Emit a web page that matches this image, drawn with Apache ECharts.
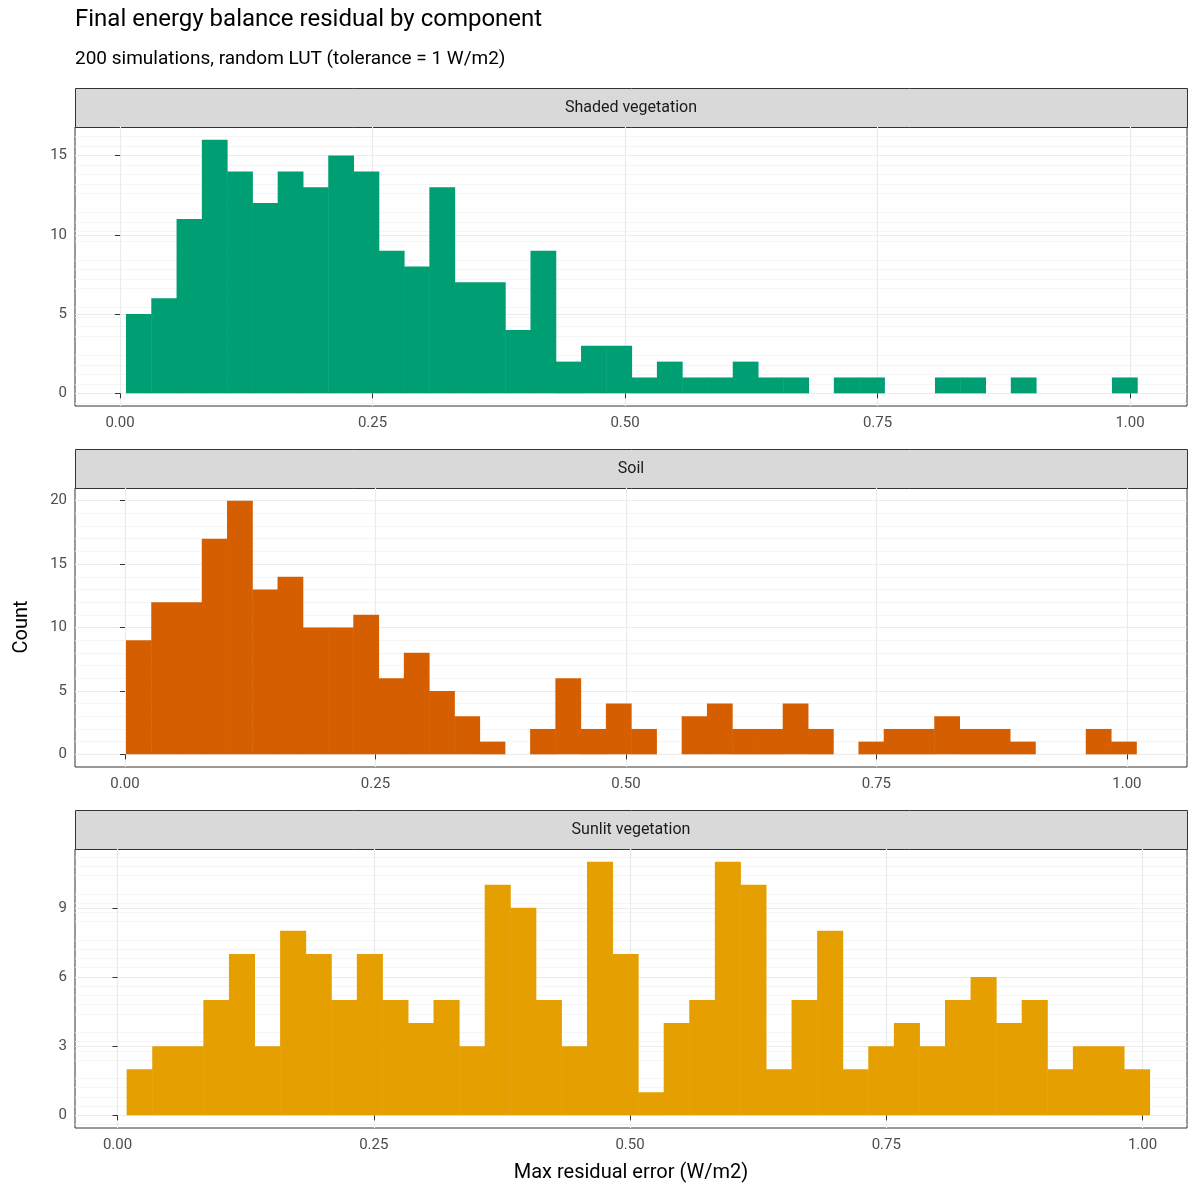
<!DOCTYPE html>
<html>
<head>
<meta charset="utf-8">
<script src="https://cdn.jsdelivr.net/npm/echarts@6/dist/echarts.min.js"></script>
<style>html,body{margin:0;padding:0;background:#fff}#main{width:1200px;height:1200px}</style>
</head>
<body>
<div id="main"></div>
<script>
// facet names
var panels = ['Shaded vegetation', 'Soil', 'Sunlit vegetation'];
var colors = ['#009E73', '#D55E00', '#E69F00'];

// 40 bins per panel, counts
var shadedCounts = [5,6,11,16,14,12,14,13,15,14, 9,8,13,7,7,4,9,2,3,3, 1,2,1,1,2,1,1,0,1,1, 0,0,1,1,0,1,0,0,0,1];
var soilCounts   = [9,12,12,17,20,13,14,10,10,11, 6,8,5,3,1,0,2,6,2,4, 2,0,3,4,2,2,4,2,0,1, 2,2,3,2,2,1,0,0,2,1];
var sunlitCounts = [2,3,3,5,7,3,8,7,5,7, 5,4,5,3,10,9,5,3,11,7, 1,4,5,11,10,2,5,8,2,3, 4,3,5,6,4,5,2,3,3,2];

// first bin edge and bin width per panel
var binStart = [0.0059, 0.0010, 0.0089];
var binWidth = [0.02503, 0.02521, 0.02495];

var xTicks = [0, 0.25, 0.5, 0.75, 1];
var yTickStep = [5, 5, 3];

var counts = [shadedCounts, soilCounts, sunlitCounts];
var xRange = [[-0.0446, 1.0564], [-0.0499, 1.0600], [-0.0415, 1.0434]];
var yRange = [[-0.8, 16.8], [-1, 21], [-0.55, 11.55]];
var tops = [127, 488, 849];
var plotH = 279, left = 75, right = 13;

var myChart = echarts.init(document.getElementById('main'));

var grids = [], xAxes = [], yAxes = [], series = [], graphics = [];
var axisStyle = {
  axisLine: {show: false},
  axisTick: {show: true, length: 5, lineStyle: {color: '#333'}},
  splitLine: {show: true, lineStyle: {color: '#ebebeb', width: 1.2}},
  minorTick: {show: false},
  minorSplitLine: {show: true, lineStyle: {color: '#f2f2f2', width: 0.8}},
  axisLabel: {color: '#4d4d4d', fontSize: 15, fontFamily: 'Roboto'}
};

for (var p = 0; p < 3; p++) {
  grids.push({left: left, right: right, top: tops[p], height: plotH,
    show: true, borderColor: '#333', borderWidth: 1, backgroundColor: '#fff'});
  xAxes.push(Object.assign({}, axisStyle, {
    type: 'value', gridIndex: p, min: xRange[p][0], max: xRange[p][1],
    minorTick: {show: false, splitNumber: 2},
    axisLabel: Object.assign({}, axisStyle.axisLabel, {
      customValues: xTicks, margin: 10, formatter: function (v) { return v.toFixed(2); }
    }),
    axisTick: Object.assign({}, axisStyle.axisTick, {customValues: xTicks}),
    splitLine: Object.assign({}, axisStyle.splitLine),
    interval: 0.125
  }));
  var ys = yTickStep[p];
  var yt = [];
  for (var v = 0; v <= yRange[p][1]; v += ys) yt.push(v);
  yAxes.push(Object.assign({}, axisStyle, {
    type: 'value', gridIndex: p, min: yRange[p][0], max: yRange[p][1],
    axisLabel: Object.assign({}, axisStyle.axisLabel, {customValues: yt, margin: 8}),
    axisTick: Object.assign({}, axisStyle.axisTick, {customValues: yt})
  }));

  var data = counts[p].map(function (c, i) {
    return [binStart[p] + i * binWidth[p], binStart[p] + (i + 1) * binWidth[p], c];
  });
  series.push({
    type: 'custom', xAxisIndex: p, yAxisIndex: p, data: data, clip: true,
    itemStyle: {color: colors[p]},
    renderItem: (function (col) {
      return function (params, api) {
        var a = api.coord([api.value(0), api.value(2)]);
        var b = api.coord([api.value(1), 0]);
        return {type: 'rect', shape: {x: a[0], y: a[1], width: b[0] - a[0] + 0.5, height: b[1] - a[1]},
          style: {fill: col}};
      };
    })(colors[p])
  });

  graphics.push({type: 'rect', left: left, top: tops[p] - 39,
    shape: {width: 1200 - left - right, height: 39},
    style: {fill: '#d9d9d9', stroke: '#333', lineWidth: 1}});
  graphics.push({type: 'text', x: left + (1200 - left - right) / 2, y: tops[p] - 19.5,
    style: {text: panels[p], fill: '#1a1a1a', fontSize: 16, fontFamily: 'Roboto', align: 'center', verticalAlign: 'middle'}});
}

// grid lines at minor positions need splitLine at 0.125 steps; use custom minor via interval
xAxes.forEach(function (ax) {
  ax.splitLine = {show: true, lineStyle: {color: '#ebebeb', width: 1.2}};
  ax.minorSplitLine = {show: false};
});

graphics.push({type: 'text', left: 75, top: 8,
  style: {text: 'Final energy balance residual by component', fill: '#000', fontSize: 24, fontFamily: 'Roboto'}});
graphics.push({type: 'text', left: 75, top: 50,
  style: {text: '200 simulations, random LUT (tolerance = 1 W/m2)', fill: '#000', fontSize: 19, fontFamily: 'Roboto'}});
graphics.push({type: 'text', x: 631, y: 1173,
  style: {text: 'Max residual error (W/m2)', fill: '#000', fontSize: 20, fontFamily: 'Roboto', align: 'center', verticalAlign: 'middle'}});
graphics.push({type: 'text', x: 22, y: 627, rotation: Math.PI / 2,
  style: {text: 'Count', fill: '#000', fontSize: 20, fontFamily: 'Roboto', align: 'center', verticalAlign: 'middle'}});

myChart.setOption({
  animation: false,
  grid: grids,
  xAxis: xAxes,
  yAxis: yAxes,
  series: series,
  graphic: graphics
});
</script>
</body>
</html>
